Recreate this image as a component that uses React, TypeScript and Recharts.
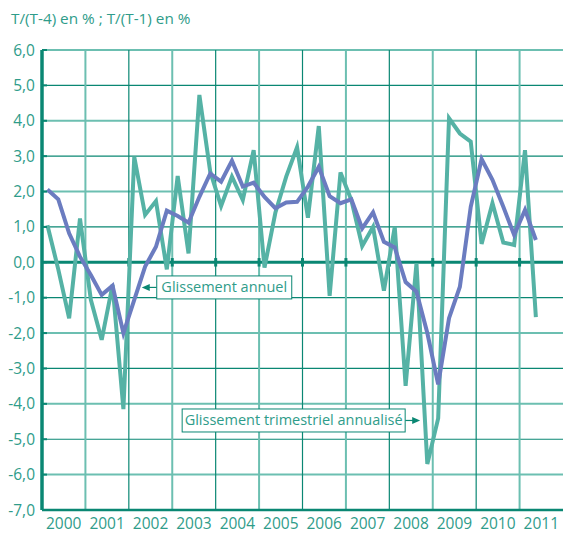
import {
  LineChart,
  Line,
  XAxis,
  YAxis,
  ReferenceLine,
  ReferenceDot,
} from 'recharts';

const years = ['2000', '2001', '2002', '2003', '2004', '2005', '2006', '2007', '2008', '2009', '2010', '2011'];
const yTicks = [-7, -6, -5, -4, -3, -2, -1, 0, 1, 2, 3, 4, 5, 6];

// glissement annuel, T/(T-4), from 2000 Q1
const annual = [
  2.06, 1.78, 0.82, 0.16, -0.36, -0.92, -0.66, -2.0, -1.06, -0.12, 0.44, 1.46,
  1.31, 1.12, 1.85, 2.51, 2.28, 2.87, 2.14, 2.25, 1.85, 1.53, 1.69, 1.71,
  2.14, 2.7, 1.87, 1.67, 1.78, 0.96, 1.41, 0.58, 0.42, -0.56, -0.83, -2.0,
  -3.45, -1.58, -0.69, 1.57, 2.92, 2.33, 1.57, 0.77, 1.48, 0.63,
];

// glissement trimestriel annualisé, T/(T-1)
const quarterly = [
  1.05, -0.2, -1.58, 1.24, -1.06, -2.19, -0.64, -4.15, 2.98, 1.34, 1.73, -0.2,
  2.44, 0.25, 4.73, 2.56, 1.59, 2.42, 1.76, 3.17, -0.15, 1.4, 2.42, 3.25,
  1.26, 3.85, -0.95, 2.54, 1.76, 0.46, 1.0, -0.8, 1.0, -3.49, -0.03, -5.7,
  -4.41, 4.07, 3.64, 3.41, 0.52, 1.67, 0.56, 0.49, 3.17, -1.55,
];

const TEXT = '#2f9c8a';
const DARK = '#0a8773';
const LIGHT = '#6cbfb1';
const GREEN = '#55b2a5';
const BLUE = '#6b7cc0';
const FONT = '"Open Sans", sans-serif';

const data = quarterly.map((q, i) => ({ x: i + 0.5, q, a: annual[i] }));
const yearCenters = years.map((_, i) => i * 4 + 2);
const yearBounds = years.slice(1).map((_, i) => (i + 1) * 4);

const fmt = (v: number) => v.toFixed(1).replace('.', ',');

function Callout({ cx, cy, side, w, text }: any) {
  // arrow tip at (cx, cy); box on the given side
  const h = 23;
  const gap = 15;
  const bx = side === 'right' ? cx + gap : cx - gap - w;
  const ax = side === 'right' ? cx + gap : cx - gap;
  const dir = side === 'right' ? 1 : -1;
  return (
    <g>
      <line x1={ax} y1={cy} x2={cx + dir * 4} y2={cy} stroke={DARK} strokeWidth={1.2} />
      <path d={`M${cx},${cy} L${cx + dir * 8},${cy - 3.5} L${cx + dir * 8},${cy + 3.5} Z`} fill={DARK} />
      <rect x={bx} y={cy - h / 2} width={w} height={h} fill="#fff" stroke={DARK} strokeWidth={1} />
      <text x={bx + w / 2} y={cy + 5} textAnchor="middle" fill={TEXT} fontSize={14.5} fontFamily={FONT}>
        {text}
      </text>
    </g>
  );
}

export default function App() {
  return (
    <div style={{ position: 'absolute', left: 0, top: 0, width: 563, height: 538, background: '#fff' }}>
      <div
        style={{
          position: 'absolute',
          left: 11,
          top: 8,
          fontFamily: FONT,
          fontSize: 15.3,
          color: TEXT,
        }}
      >
        T/(T-4) en % ; T/(T-1) en %
      </div>
      <LineChart width={563} height={538} data={data} margin={{ top: 50, right: 0, bottom: 0, left: 0 }}>
        {yTicks.map((t) => (
          <ReferenceLine
            key={'h' + t}
            y={t}
            stroke={t === 0 ? DARK : t % 2 === 0 ? LIGHT : DARK}
            strokeWidth={t === 0 ? 3 : t % 2 === 0 ? 2 : 1.2}
          />
        ))}
        {yearBounds.map((b, i) => (
          <ReferenceLine key={'v' + b} x={b} stroke={i % 2 === 0 ? LIGHT : DARK} strokeWidth={i % 2 === 0 ? 2 : 1.2} />
        ))}
        {yearBounds.map((b) => (
          <ReferenceLine
            key={'t' + b}
            segment={[
              { x: b, y: -0.12 },
              { x: b, y: 0.12 },
            ]}
            stroke={DARK}
            strokeWidth={3}
          />
        ))}
        <XAxis
          dataKey="x"
          type="number"
          domain={[0, 48]}
          ticks={yearCenters}
          tickFormatter={(v: number) => years[(v - 2) / 4]}
          tickLine={false}
          axisLine={{ stroke: DARK, strokeWidth: 2.5 }}
          height={28}
          tickSize={0}
          tickMargin={8}
          tick={{ fill: TEXT, fontSize: 15.5, fontFamily: FONT }}
          interval={0}
          allowDataOverflow
        />
        <YAxis
          type="number"
          domain={[-7, 6]}
          ticks={yTicks}
          width={42}
          tickFormatter={fmt}
          tickSize={-5}
          tickMargin={12}
          tickLine={{ stroke: DARK, strokeWidth: 2 }}
          axisLine={{ stroke: DARK, strokeWidth: 3.5 }}
          tick={{ fill: TEXT, fontSize: 15.5, fontFamily: FONT }}
          interval={0}
        />
        <Line
          dataKey="q"
          stroke={GREEN}
          strokeWidth={4}
          dot={false}
          strokeLinejoin="miter"
          isAnimationActive={false}
        />
        <Line
          dataKey="a"
          stroke={BLUE}
          strokeWidth={4}
          dot={false}
          strokeLinejoin="miter"
          isAnimationActive={false}
        />
        <ReferenceDot
          x={9.19}
          y={-0.71}
          r={0}
          shape={(p: any) => <Callout {...p} side="right" w={135} text="Glissement annuel" />}
        />
        <ReferenceDot
          x={34.84}
          y={-4.47}
          r={0}
          shape={(p: any) => <Callout {...p} side="left" w={223} text="Glissement trimestriel annualisé" />}
        />
      </LineChart>
    </div>
  );
}
